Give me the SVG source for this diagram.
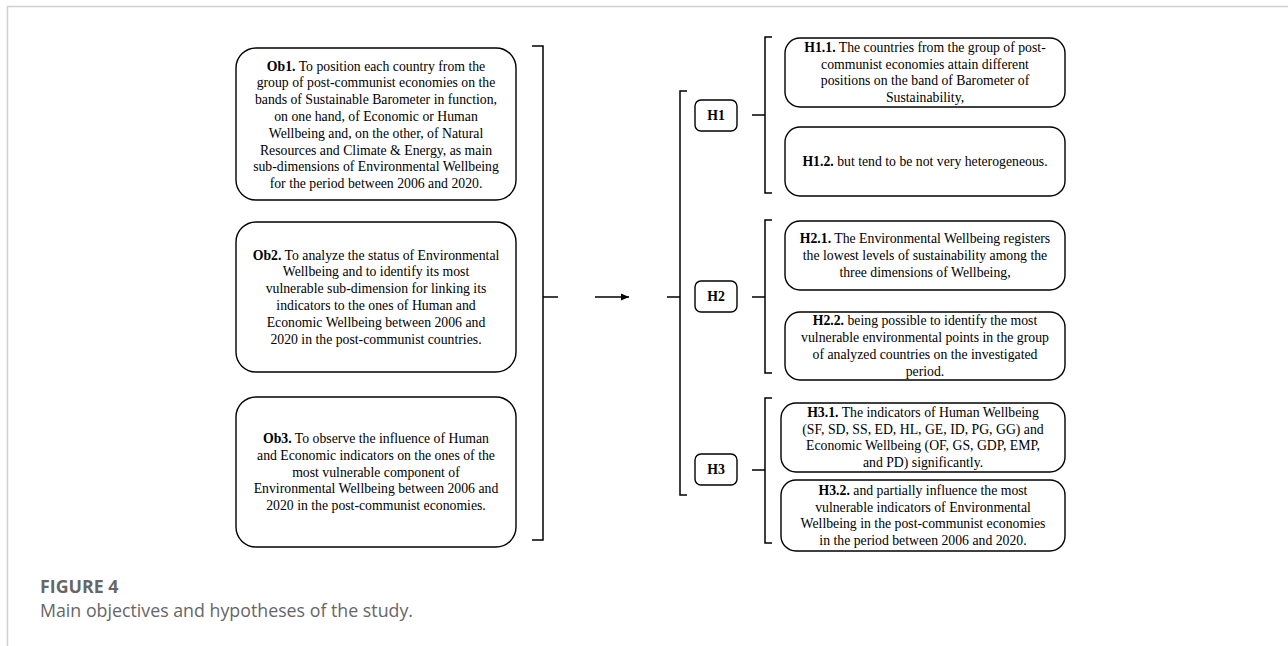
<svg xmlns="http://www.w3.org/2000/svg" width="1288" height="646" viewBox="0 0 1288 646">
<style>
.bx{fill:#fff;stroke:#000;stroke-width:1.4}
.ln{fill:none;stroke:#000;stroke-width:1.5}
.t{font-family:"Liberation Serif","Times New Roman",serif;font-size:13.75px;fill:#000;text-anchor:middle}
.b{font-weight:bold}
.cap{font-family:"Open Sans","Noto Sans",sans-serif;fill:#666}
</style>
<defs>
<marker id="ah" markerWidth="9" markerHeight="9" refX="8" refY="4.5" orient="auto" markerUnits="userSpaceOnUse">
<path d="M0,1 L8,4.5 L0,8 Z" fill="#000"/>
</marker>
</defs>
<path d="M7.5,646 V6.5 H1288" fill="none" stroke="#d0d0d0" stroke-width="1.5"/>

<g id="ob1">
<rect class="bx" x="236" y="48" width="280" height="152" rx="20"/>
<text class="t" x="376"><tspan x="376" y="70.5"><tspan class="b">Ob1.</tspan> To position each country from the</tspan><tspan x="376" y="87.3">group of post-communist economies on the</tspan><tspan x="376" y="104.1">bands of Sustainable Barometer in function,</tspan><tspan x="376" y="120.9">on one hand, of Economic or Human</tspan><tspan x="376" y="137.7">Wellbeing and, on the other, of Natural</tspan><tspan x="376" y="154.5">Resources and Climate &amp; Energy, as main</tspan><tspan x="376" y="171.3">sub-dimensions of Environmental Wellbeing</tspan><tspan x="376" y="188.1">for the period between 2006 and 2020.</tspan></text>
</g>
<g id="ob2">
<rect class="bx" x="236" y="222" width="280" height="150" rx="20"/>
<text class="t"><tspan x="376" y="259.5"><tspan class="b">Ob2.</tspan> To analyze the status of Environmental</tspan><tspan x="376" y="276.3">Wellbeing and to identify its most</tspan><tspan x="376" y="293.1">vulnerable sub-dimension for linking its</tspan><tspan x="376" y="309.9">indicators to the ones of Human and</tspan><tspan x="376" y="326.7">Economic Wellbeing between 2006 and</tspan><tspan x="376" y="343.5">2020 in the post-communist countries.</tspan></text>
</g>
<g id="ob3">
<rect class="bx" x="236" y="397" width="280" height="150" rx="20"/>
<text class="t"><tspan x="376" y="443"><tspan class="b">Ob3.</tspan> To observe the influence of Human</tspan><tspan x="376" y="459.8">and Economic indicators on the ones of the</tspan><tspan x="376" y="476.6">most vulnerable component of</tspan><tspan x="376" y="493.4">Environmental Wellbeing between 2006 and</tspan><tspan x="376" y="510.2">2020 in the post-communist economies.</tspan></text>
</g>

<g id="h1">
<rect class="bx" x="695" y="100" width="42" height="31" rx="6"/>
<text class="t b" x="716" y="120">H1</text>
</g>
<g id="h2">
<rect class="bx" x="695" y="281" width="42" height="31" rx="6"/>
<text class="t b" x="716" y="301">H2</text>
</g>
<g id="h3">
<rect class="bx" x="695" y="454" width="42" height="31" rx="6"/>
<text class="t b" x="716" y="474">H3</text>
</g>

<g id="h11">
<rect class="bx" x="785" y="38" width="280" height="69" rx="15"/>
<text class="t"><tspan x="925" y="51.8"><tspan class="b">H1.1.</tspan> The countries from the group of post-</tspan><tspan x="925" y="68.6">communist economies attain different</tspan><tspan x="925" y="85.4">positions on the band of Barometer of</tspan><tspan x="925" y="102.2">Sustainability,</tspan></text>
</g>
<g id="h12">
<rect class="bx" x="785" y="127" width="280" height="69" rx="15"/>
<text class="t"><tspan x="925" y="166"><tspan class="b">H1.2.</tspan> but tend to be not very heterogeneous.</tspan></text>
</g>
<g id="h21">
<rect class="bx" x="785" y="221" width="280" height="69" rx="15"/>
<text class="t"><tspan x="925" y="243.2"><tspan class="b">H2.1.</tspan> The Environmental Wellbeing registers</tspan><tspan x="925" y="260">the lowest levels of sustainability among the</tspan><tspan x="925" y="276.8">three dimensions of Wellbeing,</tspan></text>
</g>
<g id="h22">
<rect class="bx" x="785" y="312" width="280" height="68" rx="15"/>
<text class="t"><tspan x="925" y="325.3"><tspan class="b">H2.2.</tspan> being possible to identify the most</tspan><tspan x="925" y="342.1">vulnerable environmental points in the group</tspan><tspan x="925" y="358.9">of analyzed countries on the investigated</tspan><tspan x="925" y="375.7">period.</tspan></text>
</g>
<g id="h31">
<rect class="bx" x="781" y="403" width="284" height="69" rx="15"/>
<text class="t"><tspan x="923" y="416.8"><tspan class="b">H3.1.</tspan> The indicators of Human Wellbeing</tspan><tspan x="923" y="433.6">(SF, SD, SS, ED, HL, GE, ID, PG, GG) and</tspan><tspan x="923" y="450.4">Economic Wellbeing (OF, GS, GDP, EMP,</tspan><tspan x="923" y="467.2">and PD) significantly.</tspan></text>
</g>
<g id="h32">
<rect class="bx" x="781" y="480" width="284" height="71" rx="15"/>
<text class="t"><tspan x="923" y="494.8"><tspan class="b">H3.2.</tspan> and partially influence the most</tspan><tspan x="923" y="511.6">vulnerable indicators of Environmental</tspan><tspan x="923" y="528.4">Wellbeing in the post-communist economies</tspan><tspan x="923" y="545.2">in the period between 2006 and 2020.</tspan></text>
</g>

<g id="connectors">
<path class="ln" d="M532,46 H543 V540 H532 M543,297 H558"/>
<path class="ln" d="M595,297 H629" marker-end="url(#ah)"/>
<path class="ln" d="M687,91 H680 V495 H687 M667,297 H680"/>
<path class="ln" d="M772,37 H765 V193 H772 M752,115 H765"/>
<path class="ln" d="M772,220 H765 V373 H772 M752,297 H765"/>
<path class="ln" d="M772,398 H765 V543 H772 M752,470 H765"/>
</g>

<text class="cap" x="40" y="593" font-size="17.8" font-weight="bold">FIGURE 4</text>
<text class="cap" x="40" y="617" font-size="17.8">Main objectives and hypotheses of the study.</text>
</svg>
